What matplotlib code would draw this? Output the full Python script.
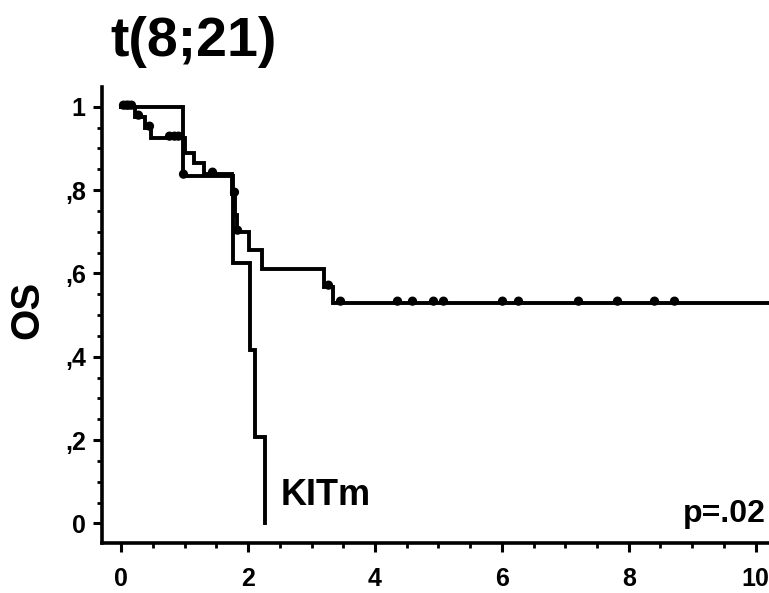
import matplotlib
matplotlib.use('Agg')
import matplotlib.pyplot as plt
import numpy as np
from matplotlib.path import Path
from matplotlib.ticker import MultipleLocator

plt.rcParams['font.family'] = ['Liberation Sans', 'DejaVu Sans']
plt.rcParams['font.weight'] = 'bold'

# KIT mutated group
kit_t = [0, 0.98, 1.76, 2.03, 2.10, 2.27]
kit_s = [1.0, 0.833, 0.625, 0.417, 0.208, 0.0]
kit_cens = [0.98]

# other t(8;21) patients
wt_t = [0, 0.22, 0.38, 0.47, 1.01, 1.15, 1.31, 1.75, 1.79, 1.82, 2.01, 2.22, 3.20, 3.33, 10.4]
wt_s = [1.0, 0.975, 0.95, 0.925, 0.89, 0.865, 0.838, 0.79, 0.74, 0.70, 0.655, 0.61, 0.568, 0.529, 0.529]
wt_cens = [0.03, 0.07, 0.11, 0.15, 0.27, 0.43, 0.75, 0.83, 0.90, 1.43, 1.78, 1.83,
           3.26, 3.45, 4.35, 4.59, 4.91, 5.07, 6.00, 6.25, 7.20, 7.82, 8.40, 8.72]

x_ticks = [0, 2, 4, 6, 8, 10]
y_ticks = [0, 0.2, 0.4, 0.6, 0.8, 1.0]
y_ticklabels = ['0', ',2', ',4', ',6', ',8', '1']


def surv_at(times, surv, c):
    # value of the step curve at the censoring time
    i = np.searchsorted(times, c, side='right') - 1
    return np.asarray(surv)[i]


# dot sitting on top of the line
circ = Path.unit_circle()
dot = Path(circ.vertices + [0, 0.6], circ.codes)

fig = plt.figure(figsize=(7.69, 5.93), dpi=100)
ax = fig.add_axes([0.1322, 0.0843, 0.88, 0.7695])

for t, s, cens in [(wt_t, wt_s, wt_cens), (kit_t, kit_s, kit_cens)]:
    ax.step(t, s, where='post', color='black', lw=2.8, solid_joinstyle='miter')
    ax.plot(cens, surv_at(t, s, cens), ls='none', marker=dot, ms=9,
            color='black', mec='black')

ax.set_xlim(-0.31, 10.36)
ax.set_ylim(-0.047, 1.048)
ax.spines['right'].set_color('none')
ax.spines['top'].set_color('none')
ax.spines['left'].set_linewidth(2.6)
ax.spines['bottom'].set_linewidth(2.6)

ax.set_xticks(x_ticks)
ax.set_xticklabels([str(v) for v in x_ticks])
ax.set_yticks(y_ticks)
ax.set_yticklabels(y_ticklabels)
ax.xaxis.set_minor_locator(MultipleLocator(0.5))
ax.yaxis.set_minor_locator(MultipleLocator(0.05))
ax.tick_params(which='major', length=6.5, width=2.2, labelsize=18)
ax.tick_params(which='minor', length=3.5, width=2.0)
ax.tick_params(axis='x', which='major', pad=11)
ax.tick_params(axis='y', which='major', pad=5)

ax.text(2.51, 0.044, 'KITm', fontsize=26, va='baseline', ha='left')
ax.text(10.16, 0.004, 'p=.02', fontsize=23, va='baseline', ha='right')

fig.text(0.035, 0.477, 'OS', fontsize=29, rotation=90, ha='center', va='center')
fig.text(110 / 769, 1 - 56 / 593, 't(8;21)', fontsize=40, ha='left', va='baseline')

fig.savefig('out.png', dpi=100)
